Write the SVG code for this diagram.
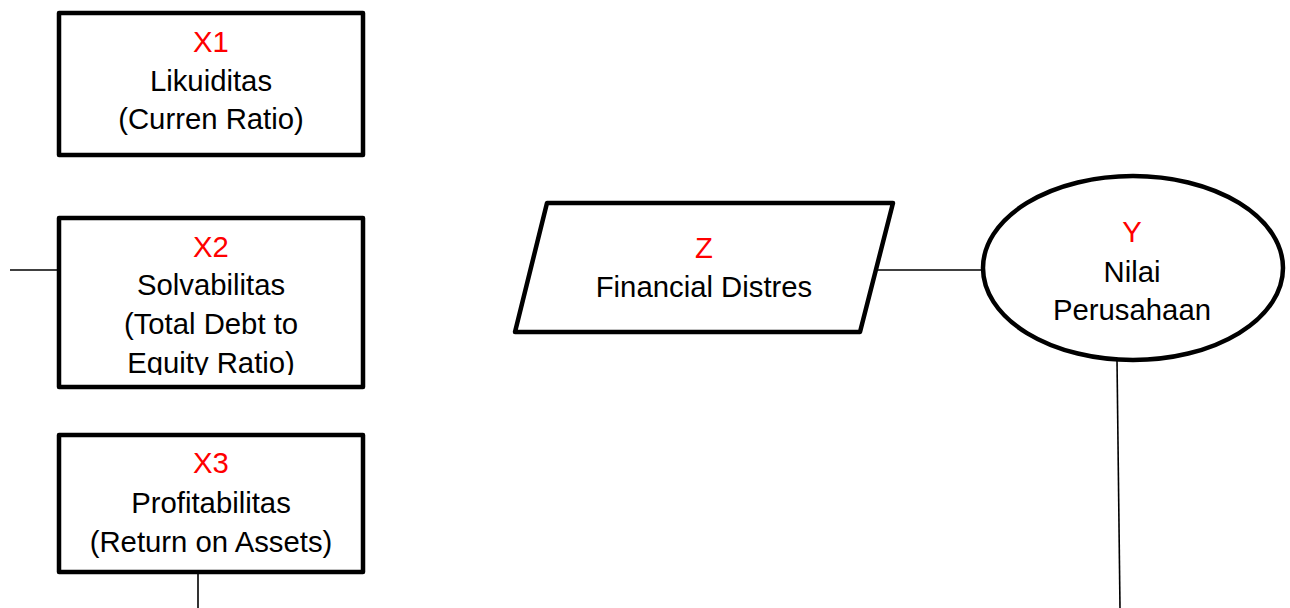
<svg xmlns="http://www.w3.org/2000/svg" width="1290" height="608" viewBox="0 0 1290 608">
  <style>
    .shape { fill: #ffffff; stroke: #000000; stroke-width: 4.5; stroke-linejoin: round; }
    .conn { fill: none; stroke: #000000; stroke-width: 1.6; }
    text { font-family: "Liberation Sans", Arial, sans-serif; font-size: 29.3px; text-anchor: middle; fill: #000000; }
    text.code { fill: #ff0000; }
  </style>
  <defs>
    <clipPath id="clip-x2">
      <rect x="61" y="220" width="300" height="155"/>
    </clipPath>
  </defs>
  <rect width="1290" height="608" fill="#ffffff"/>

  <g id="connectors">
    <line class="conn" x1="10" y1="270" x2="60" y2="270"/>
    <line class="conn" x1="198" y1="574" x2="198" y2="608"/>
    <line class="conn" x1="878" y1="270" x2="984" y2="270"/>
    <line class="conn" x1="1117" y1="360" x2="1120" y2="608"/>
  </g>

  <g id="node-x1">
    <rect class="shape" x="59" y="13" width="304" height="142"/>
    <text class="code" x="211" y="52">X1</text>
    <text x="211" y="91">Likuiditas</text>
    <text x="211" y="129">(Curren Ratio)</text>
  </g>

  <g id="node-x2">
    <rect class="shape" x="59" y="218" width="304" height="169"/>
    <g clip-path="url(#clip-x2)">
      <text class="code" x="211" y="257">X2</text>
      <text x="211" y="295">Solvabilitas</text>
      <text x="211" y="334">(Total Debt to</text>
      <text x="211" y="373">Equity Ratio)</text>
    </g>
  </g>

  <g id="node-x3">
    <rect class="shape" x="59" y="435" width="304" height="137"/>
    <text class="code" x="211" y="473">X3</text>
    <text x="211" y="513">Profitabilitas</text>
    <text x="211" y="552">(Return on Assets)</text>
  </g>

  <g id="node-z">
    <polygon class="shape" points="547,203 893,203 860,332 515,332"/>
    <text class="code" x="704" y="258">Z</text>
    <text x="704" y="297">Financial Distres</text>
  </g>

  <g id="node-y">
    <ellipse class="shape" cx="1133" cy="268" rx="150" ry="92"/>
    <text class="code" x="1132" y="242">Y</text>
    <text x="1132" y="282">Nilai</text>
    <text x="1132" y="320">Perusahaan</text>
  </g>
</svg>
